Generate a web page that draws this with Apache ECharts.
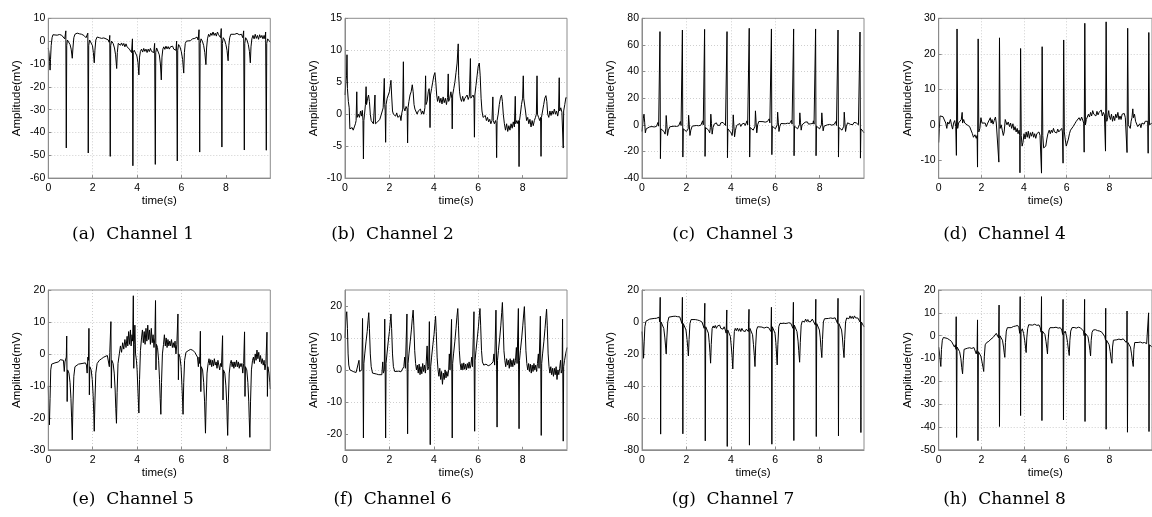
<!DOCTYPE html>
<html><head><meta charset="utf-8">
<script src="https://cdn.jsdelivr.net/npm/echarts@6/dist/echarts.min.js"></script>
<style>html,body{margin:0;padding:0;background:#fff}#c{width:1152px;height:517px}</style>
</head><body><div id="c"></div>
<script>
// ---------------- data (time in s, amplitude in mV) ----------------
const channel1 = [[0,-3],[0.03,-5],[0.06,-9],[0.08,-12.7],[0.1,-8],[0.13,-2],[0.17,1.5],[0.21,2.8],[0.3,3],[0.4,2.6],[0.5,2.9],[0.6,2.6],[0.68,2],[0.74,1],[0.77,0.5],[0.79,4.5],[0.81,-46.8],[0.83,-2],[0.86,0.5],[0.92,0],[0.98,-1.5],[1.03,-3.5],[1.08,-7.5],[1.11,-3],[1.15,1.5],[1.2,3],[1.3,3.5],[1.4,3.2],[1.5,3],[1.6,2.5],[1.7,1.5],[1.75,1],[1.78,3.5],[1.80,-49],[1.82,-2],[1.86,0.5],[1.93,0],[1.99,-2],[2.03,-5],[2.07,-9.5],[2.1,-4],[2.14,0.5],[2.2,1.8],[2.3,1.5],[2.4,1.2],[2.5,1.4],[2.6,1],[2.7,0.5],[2.74,-0.5],[2.77,2.5],[2.79,-50.5],[2.81,-2],[2.85,0],[2.92,-1],[2.98,-3],[3.03,-6],[3.08,-12],[3.11,-5],[3.15,-1],[3.2,-0.5],[3.25,-1.8],[3.3,-0.8],[3.35,-2],[3.4,-1],[3.45,-2.5],[3.5,-1.2],[3.55,-2.5],[3.6,-1.8],[3.65,-3.5],[3.7,-2.8],[3.75,-5],[3.79,1],[3.81,-54.6],[3.83,-5],[3.87,-4],[3.93,-4.5],[3.99,-6.5],[4.04,-9.5],[4.08,-14.8],[4.11,-7],[4.15,-4.5],[4.2,-3.5],[4.25,-4.8],[4.3,-3.2],[4.35,-4.5],[4.4,-3.5],[4.45,-5],[4.5,-3.5],[4.55,-4.6],[4.6,-3.2],[4.65,-4.5],[4.7,-3.8],[4.75,-5],[4.79,-1],[4.82,-54],[4.84,-5],[4.88,-3],[4.94,-3.5],[5.0,-6],[5.05,-10],[5.09,-17],[5.12,-7],[5.16,-3.5],[5.2,-2.5],[5.25,-3.6],[5.3,-2.2],[5.35,-3.4],[5.4,-2.4],[5.45,-3.5],[5.5,-2.5],[5.55,-3.2],[5.6,-2.2],[5.65,-3.5],[5.7,-3],[5.75,-4],[5.78,0],[5.81,-52.5],[5.83,-4],[5.87,-1.5],[5.93,-2.5],[5.99,-4.5],[6.05,-8],[6.10,-14],[6.13,-5],[6.17,-1],[6.22,0],[6.3,0.5],[6.4,0.2],[6.5,1],[6.6,1.2],[6.7,1.8],[6.75,0.5],[6.79,5],[6.82,-48.6],[6.84,-1],[6.88,1],[6.94,0],[7.0,-2],[7.05,-5],[7.10,-10.3],[7.13,-3],[7.17,1],[7.22,3],[7.27,2],[7.32,3.5],[7.37,2.5],[7.42,4],[7.47,2.5],[7.52,3.5],[7.57,2.2],[7.62,4],[7.67,2.8],[7.72,3.5],[7.76,1.5],[7.79,5.5],[7.82,-46.4],[7.84,-1],[7.88,1.5],[7.94,0.5],[8.0,-1.5],[8.05,-4],[8.10,-8.6],[8.13,-2],[8.17,1.5],[8.22,3],[8.3,3.5],[8.4,3],[8.5,3.4],[8.6,2.8],[8.7,3],[8.76,1.5],[8.80,4.5],[8.83,-47.7],[8.85,-1],[8.89,1.5],[8.95,0.5],[9.01,-1.5],[9.06,-4.5],[9.10,-9.5],[9.13,-2.5],[9.17,1],[9.22,2.5],[9.27,1],[9.32,3],[9.37,1.2],[9.42,2.5],[9.47,0.8],[9.52,2.8],[9.57,1.5],[9.62,2.5],[9.67,1],[9.72,2.5],[9.76,1],[9.79,4],[9.82,-47.8],[9.84,-1],[9.88,1],[9.94,0.5],[10,-0.5]];

const channel2 = [[0,3],[0.04,5],[0.07,6],[0.09,9.3],[0.11,4],[0.15,2],[0.19,1],[0.22,-2.3],[0.27,-2.6],[0.32,-2.1],[0.37,-2.5],[0.42,-2],[0.47,-1.5],[0.5,-1],[0.53,3.5],[0.55,-0.5],[0.6,0],[0.65,-0.5],[0.7,0.5],[0.74,-0.3],[0.78,0.6],[0.81,-1],[0.83,-7],[0.85,-1],[0.88,0],[0.92,1.5],[0.95,4.3],[0.97,1.5],[1.02,2.5],[1.06,3],[1.1,2],[1.14,0],[1.18,-1],[1.23,-0.8],[1.28,-1.5],[1.32,-1.2],[1.35,3],[1.37,-1.5],[1.42,-1.8],[1.47,-1.2],[1.52,-1.5],[1.57,-0.8],[1.62,-0.5],[1.68,0.5],[1.72,1],[1.77,5.6],[1.79,1.5],[1.81,0.5],[1.83,-4.4],[1.85,1.5],[1.9,2.5],[1.95,2.2],[2.0,3.5],[2.04,4.5],[2.07,5.3],[2.1,3],[2.14,0.5],[2.18,0],[2.23,0.3],[2.28,-0.3],[2.33,0.2],[2.38,-0.5],[2.43,-0.8],[2.48,-0.2],[2.52,-1],[2.56,0.2],[2.6,0.8],[2.63,8.2],[2.65,1],[2.7,0.5],[2.75,1.2],[2.8,0.8],[2.82,-4.5],[2.84,1],[2.88,2],[2.93,3],[2.98,3.5],[3.03,4.6],[3.07,3.5],[3.11,1.5],[3.15,0.8],[3.2,0.5],[3.25,0],[3.3,0.5],[3.35,0.2],[3.4,0.8],[3.45,0],[3.5,0.5],[3.55,0],[3.6,1],[3.63,6],[3.65,1.5],[3.7,2],[3.75,3.5],[3.79,4],[3.81,3],[3.83,-2.1],[3.85,3],[3.9,4],[3.95,5],[4.0,6],[4.05,6.5],[4.09,5],[4.13,3],[4.17,2],[4.22,2.8],[4.27,1.8],[4.32,2.5],[4.37,1.6],[4.42,2.7],[4.47,1.8],[4.52,2.5],[4.57,1.5],[4.62,2.6],[4.65,6.3],[4.67,2],[4.72,2.5],[4.77,3.5],[4.81,2.5],[4.83,-2.3],[4.85,3],[4.9,4],[4.95,5],[5.0,6.5],[5.05,8],[5.1,11],[5.12,6],[5.16,3.5],[5.2,2.5],[5.25,2],[5.3,2.8],[5.35,2],[5.4,2.5],[5.45,2.2],[5.5,3],[5.55,2.3],[5.6,2.8],[5.65,8.7],[5.67,2.5],[5.72,2.8],[5.77,3],[5.81,2.5],[5.83,-3.6],[5.85,3],[5.9,4.5],[5.95,6],[6.0,7.5],[6.05,8],[6.09,6],[6.13,2.5],[6.17,0.5],[6.22,-0.5],[6.27,-0.8],[6.32,-0.2],[6.37,-1],[6.42,-0.5],[6.47,-1.2],[6.52,-0.8],[6.57,-1.5],[6.62,-1],[6.66,2.7],[6.68,-1],[6.73,-1.5],[6.78,-1],[6.81,-1.5],[6.83,-6.8],[6.85,-1],[6.9,0],[6.95,1.5],[7.0,2.5],[7.05,3],[7.09,2],[7.13,0],[7.18,-1.5],[7.23,-2.5],[7.28,-1.5],[7.33,-2.7],[7.38,-1.8],[7.43,-2.5],[7.48,-1.5],[7.53,-2.2],[7.58,-1.2],[7.63,-2],[7.67,2.8],[7.69,-1.5],[7.74,-1],[7.79,-1.5],[7.82,-1],[7.84,-8.2],[7.86,-1],[7.9,0],[7.95,1.5],[8.0,2.5],[8.03,6],[8.05,2.5],[8.09,2.8],[8.13,0.5],[8.18,-1],[8.23,-0.5],[8.28,-1.5],[8.33,-0.8],[8.38,-2],[8.43,-1],[8.48,-1.8],[8.53,-1],[8.58,-0.5],[8.62,0],[8.65,6],[8.67,0],[8.72,-0.5],[8.77,-1],[8.81,-0.5],[8.83,-6.6],[8.85,-0.5],[8.9,0.5],[8.95,1.5],[9.0,2.5],[9.05,2.9],[9.09,2],[9.13,0],[9.18,-0.5],[9.23,0.5],[9.28,-0.2],[9.33,0.5],[9.38,0],[9.43,0.8],[9.48,0],[9.53,0.5],[9.58,-0.3],[9.62,0.5],[9.65,5.7],[9.67,0.5],[9.72,1],[9.77,0.3],[9.81,0.5],[9.83,-5.3],[9.85,0.5],[9.9,1.5],[9.95,2.6],[10,2.5]];

const channel3 = [[0,-5],[0.03,0],[0.06,5],[0.09,8],[0.12,2],[0.15,-6],[0.19,-3],[0.24,-1.6],[0.35,-1.5],[0.45,-1.3],[0.55,-1.6],[0.65,-1.2],[0.7,-0.5],[0.72,1.8],[0.75,-1],[0.79,-1.5],[0.81,70],[0.83,-25.4],[0.85,-3],[0.92,-3.5],[0.99,-5],[1.04,-7],[1.07,-3],[1.09,7],[1.12,0],[1.15,-8],[1.19,-4],[1.25,-1.5],[1.35,-1.2],[1.45,-1],[1.55,-1.2],[1.65,-0.8],[1.71,0],[1.73,2.5],[1.76,-0.5],[1.8,-1],[1.82,71.2],[1.84,-24.2],[1.86,-3],[1.93,-3.5],[2.0,-5],[2.05,-6.5],[2.08,-3],[2.1,7.2],[2.13,0],[2.16,-8],[2.2,-4],[2.26,-1],[2.35,-0.8],[2.45,-0.5],[2.55,-0.7],[2.65,-0.3],[2.71,0.5],[2.73,3],[2.76,0],[2.8,-0.5],[2.82,71.7],[2.84,-23.7],[2.86,-2],[2.93,-2.5],[3.0,-4],[3.05,-6],[3.08,-2],[3.1,8],[3.13,1],[3.16,-7],[3.2,-2],[3.25,0.5],[3.3,-0.5],[3.35,1.5],[3.4,-0.3],[3.45,1.2],[3.5,-0.5],[3.55,1.5],[3.6,0],[3.65,1.8],[3.7,0.5],[3.73,2.5],[3.76,-0.5],[3.81,-1],[3.83,70],[3.85,-24.7],[3.87,-3],[3.94,-4],[4.01,-6],[4.06,-8],[4.09,-3],[4.11,7.5],[4.14,-1],[4.17,-9],[4.21,-4],[4.26,-0.5],[4.3,0.8],[4.35,-1],[4.4,1],[4.45,-1.2],[4.5,0.5],[4.55,-1],[4.6,1.2],[4.65,-0.5],[4.7,1],[4.73,3],[4.76,0],[4.81,0.5],[4.83,72.5],[4.85,-24.2],[4.87,-2],[4.94,-2.5],[5.01,-4],[5.06,-5],[5.09,-1],[5.11,10.5],[5.14,2],[5.17,-6],[5.21,0],[5.26,2.5],[5.35,2],[5.45,2.4],[5.55,2],[5.65,2.5],[5.71,2.8],[5.73,4.5],[5.76,1.5],[5.81,1.5],[5.83,72],[5.85,-22.4],[5.87,-1],[5.94,-1.5],[6.01,-3],[6.06,-4],[6.09,0],[6.11,9.5],[6.14,2],[6.17,-5],[6.21,-1],[6.26,1],[6.35,1.2],[6.45,0.8],[6.55,1.2],[6.65,1],[6.71,1.5],[6.73,3.5],[6.76,0.5],[6.81,0.5],[6.83,72],[6.85,-23.2],[6.87,-1],[6.94,-1.5],[7.01,-3],[7.06,-4],[7.09,0],[7.11,9],[7.14,2],[7.17,-4],[7.21,0],[7.26,1.5],[7.3,0.5],[7.35,2],[7.4,0.8],[7.45,2.2],[7.5,0.5],[7.55,1.8],[7.6,0.8],[7.65,2],[7.7,1],[7.72,3],[7.75,0.5],[7.8,0.5],[7.82,72],[7.84,-23.2],[7.86,-1],[7.93,-1.5],[8.0,-3],[8.05,-4],[8.08,0],[8.1,9],[8.13,1.5],[8.16,-4.5],[8.2,-1],[8.25,0.5],[8.35,0],[8.45,0.3],[8.55,-0.2],[8.65,0.2],[8.71,0.5],[8.73,2.5],[8.76,-0.5],[8.81,-0.5],[8.83,71.2],[8.85,-24.2],[8.87,-2],[8.94,-2.5],[9.01,-4],[9.06,-5.5],[9.09,-1],[9.11,9.5],[9.14,1.5],[9.17,-5],[9.21,-1],[9.26,1.5],[9.3,0.2],[9.35,1.8],[9.4,0.3],[9.45,1.6],[9.5,0.2],[9.55,1.8],[9.6,0.5],[9.65,1.5],[9.7,1],[9.72,3],[9.75,0],[9.8,-0.5],[9.82,69.7],[9.84,-25],[9.86,-3],[9.91,-3.5],[9.96,-5],[10,-6]];

const channel4 = [[0,-5],[0.03,-1],[0.06,2.5],[0.12,2.8],[0.2,2.3],[0.28,1.8],[0.33,0.5],[0.38,-1],[0.42,0.8],[0.48,0.2],[0.55,1.5],[0.6,0],[0.65,-1.2],[0.7,0.5],[0.75,1.2],[0.8,-0.5],[0.83,-8.6],[0.86,27],[0.89,-1],[0.93,0.5],[0.98,1],[1.02,0],[1.06,1.5],[1.1,3.5],[1.12,0.5],[1.17,1.5],[1.22,0.5],[1.28,1],[1.33,0],[1.38,0.5],[1.45,-0.5],[1.52,-1],[1.58,-2.5],[1.63,-3.5],[1.7,-2.8],[1.76,-3.8],[1.8,-3],[1.82,-11.9],[1.85,24.2],[1.88,-2],[1.93,-1],[1.98,2],[2.03,0.5],[2.08,1],[2.12,0],[2.18,0.5],[2.23,-0.5],[2.3,0.5],[2.38,1],[2.42,2],[2.46,0.5],[2.5,1.5],[2.55,0.2],[2.6,1.2],[2.66,2.2],[2.7,0.5],[2.76,0.8],[2.79,0],[2.82,-10.5],[2.85,24.5],[2.88,-1],[2.93,0],[2.98,-1.5],[3.03,-3],[3.07,-2],[3.12,1.5],[3.16,1],[3.2,0],[3.26,0.8],[3.32,-0.5],[3.37,0.5],[3.42,-1],[3.48,0.3],[3.53,-1.5],[3.58,-0.5],[3.63,-2],[3.68,-1],[3.72,-2.5],[3.77,-1.5],[3.8,-3],[3.81,-13.5],[3.84,21.5],[3.87,-3],[3.91,-6],[3.95,-5],[4.0,-2.5],[4.05,-4],[4.1,-2],[4.15,-3.5],[4.2,-1.8],[4.25,-3.8],[4.3,-2.2],[4.35,-3.2],[4.4,-2],[4.45,-3.5],[4.5,-2.5],[4.55,-3.8],[4.6,-2.5],[4.65,-3],[4.7,-2],[4.75,-3],[4.79,-2.5],[4.82,-13.6],[4.85,22],[4.88,-3],[4.92,-6.5],[4.97,-7],[5.02,-6],[5.07,-4],[5.12,-2.5],[5.18,-1.5],[5.23,-2.5],[5.28,-1.5],[5.33,-2.2],[5.38,-1],[5.43,-2],[5.48,-1.5],[5.53,-2.3],[5.58,-1.2],[5.63,-2],[5.68,-1.5],[5.72,-2.5],[5.77,-1],[5.8,-2],[5.83,-10.8],[5.86,23.9],[5.89,-2],[5.93,-4],[5.98,-6],[6.03,-6.3],[6.08,-4],[6.13,-2.5],[6.18,-1.5],[6.23,-1],[6.3,-0.5],[6.38,0.3],[6.45,1],[6.52,0.8],[6.58,2],[6.64,1.2],[6.7,2.2],[6.75,2],[6.8,0.5],[6.82,-7.7],[6.85,28.6],[6.88,0],[6.92,1.5],[6.97,2],[7.02,3],[7.07,2.2],[7.12,3.5],[7.17,2.5],[7.22,4],[7.27,3],[7.32,3.5],[7.37,2.5],[7.42,3.8],[7.47,2.8],[7.52,3.5],[7.57,3],[7.62,4.2],[7.67,2.5],[7.72,3.5],[7.77,2.8],[7.8,3.2],[7.82,-7.4],[7.85,29],[7.88,1],[7.92,2],[7.97,4],[8.0,2.5],[8.05,1.5],[8.1,3],[8.15,1],[8.2,2.5],[8.25,1.2],[8.3,3],[8.35,2],[8.4,3.5],[8.45,1.5],[8.5,2.5],[8.55,1.5],[8.6,3],[8.65,2.5],[8.7,3.2],[8.75,2],[8.8,2.5],[8.83,-7.8],[8.86,27.2],[8.89,0],[8.93,0.5],[8.98,-1],[9.02,1],[9.06,2],[9.1,4.5],[9.13,2],[9.18,3],[9.23,1],[9.28,0.5],[9.33,-0.5],[9.38,-1],[9.43,0.3],[9.48,-0.8],[9.53,0.5],[9.58,1],[9.63,0.2],[9.68,1],[9.74,0.5],[9.8,1],[9.82,-8],[9.85,26],[9.88,0],[9.94,0.5],[10,0.5]];

const channel5 = [[0,-10],[0.02,-17],[0.05,-22.2],[0.08,-14],[0.11,-5],[0.15,-3.2],[0.22,-2.6],[0.3,-2.8],[0.38,-2.2],[0.46,-2.5],[0.54,-1.8],[0.62,-1.6],[0.68,-2],[0.72,-5.5],[0.75,-2.5],[0.79,-3],[0.81,-1],[0.83,5.6],[0.85,-14.9],[0.87,-5],[0.93,-6],[0.98,-9],[1.02,-14],[1.05,-20],[1.08,-26.9],[1.11,-16],[1.15,-7],[1.2,-4],[1.28,-3.5],[1.36,-3.2],[1.44,-3.5],[1.52,-3],[1.6,-3.2],[1.67,-2.8],[1.72,-3.5],[1.75,-6],[1.78,-1],[1.81,-2],[1.83,8],[1.85,-12.8],[1.87,-4],[1.93,-5],[1.98,-8],[2.02,-13],[2.05,-19],[2.07,-24.2],[2.1,-15],[2.14,-6],[2.2,-3],[2.3,-2],[2.4,-1.5],[2.5,-1],[2.58,-0.6],[2.66,-0.5],[2.72,-0.8],[2.75,-4],[2.77,0.5],[2.8,1],[2.82,10.1],[2.84,-10.7],[2.86,-2],[2.92,-3],[2.97,-6],[3.01,-11],[3.04,-17],[3.07,-21.7],[3.1,-12],[3.14,-3],[3.2,0],[3.25,2.5],[3.3,0.5],[3.35,3.5],[3.4,1.5],[3.45,4.5],[3.5,2],[3.55,5.5],[3.58,2.5],[3.62,7],[3.66,3],[3.7,7.5],[3.73,2.5],[3.77,6],[3.8,4],[3.83,18.2],[3.85,-4.5],[3.87,3],[3.9,9],[3.93,0],[3.97,-2],[4.0,-5],[4.04,-12],[4.08,-18.5],[4.11,-8],[4.15,1],[4.2,5],[4.24,7.5],[4.28,3.5],[4.32,7],[4.36,3],[4.4,8],[4.44,4],[4.48,9],[4.52,4.5],[4.56,7.5],[4.6,3],[4.64,8],[4.68,3.5],[4.72,6],[4.76,2],[4.8,5],[4.83,16.7],[4.85,-5],[4.87,3],[4.92,2],[4.97,-2],[5.01,-8],[5.04,-14],[5.07,-18.9],[5.1,-9],[5.14,0],[5.19,3],[5.23,6],[5.27,2.5],[5.31,5],[5.35,2],[5.39,4.5],[5.43,2.5],[5.47,4],[5.51,2.5],[5.55,4.5],[5.59,2],[5.63,3.5],[5.67,2],[5.71,4],[5.75,0],[5.79,3],[5.84,12.5],[5.86,-8.1],[5.88,0],[5.93,-1],[5.98,-4],[6.02,-10],[6.05,-15],[6.07,-18.9],[6.1,-9],[6.14,-2],[6.2,0.5],[6.3,1],[6.4,1.4],[6.5,1.2],[6.6,0.5],[6.68,0],[6.72,-1],[6.76,-4],[6.79,-1],[6.82,-3],[6.85,7.1],[6.87,-11.8],[6.89,-4],[6.95,-5],[7.0,-9],[7.04,-15],[7.06,-20],[7.08,-24.8],[7.11,-15],[7.15,-6],[7.2,-3],[7.24,-1.5],[7.28,-3.5],[7.32,-1.8],[7.36,-4],[7.4,-2],[7.44,-3.8],[7.48,-1.5],[7.52,-3.5],[7.56,-2.5],[7.6,-4.5],[7.64,-2],[7.68,-3.5],[7.72,-5],[7.76,-3],[7.8,-4],[7.85,5.7],[7.87,-14.4],[7.89,-5],[7.95,-6],[8.0,-10],[8.04,-16],[8.06,-21],[8.08,-25.5],[8.11,-15],[8.15,-6],[8.2,-3],[8.24,-2],[8.28,-4],[8.32,-2.5],[8.36,-4.5],[8.4,-2.5],[8.44,-4],[8.48,-2],[8.52,-4],[8.56,-2.5],[8.6,-4.5],[8.64,-3],[8.68,-4],[8.72,-3],[8.76,-6],[8.8,-3],[8.84,6.9],[8.86,-13.3],[8.88,-4],[8.94,-5],[8.99,-9],[9.03,-15],[9.05,-20],[9.08,-26.1],[9.11,-15],[9.15,-5],[9.2,-2],[9.24,-1],[9.28,-3],[9.32,0],[9.36,-2],[9.4,1.2],[9.44,-1.5],[9.48,0.5],[9.52,-2.5],[9.56,-0.5],[9.6,-3],[9.64,-1.5],[9.68,-3.5],[9.72,-2],[9.76,-5],[9.8,-3],[9.85,6.8],[9.87,-13.3],[9.89,-4],[9.94,-6],[9.98,-9],[10,-11]];

const channel6 = [[0,10],[0.03,15],[0.06,17.5],[0.08,18.2],[0.11,13],[0.14,5],[0.17,1.5],[0.22,0],[0.3,-0.4],[0.4,-0.6],[0.5,-0.8],[0.58,-1],[0.63,3],[0.66,-0.5],[0.72,-1],[0.76,0],[0.79,16.1],[0.81,0],[0.83,-21.3],[0.85,2],[0.89,5],[0.95,9],[1.0,12],[1.04,15.5],[1.07,17.9],[1.1,13],[1.14,5],[1.18,1],[1.24,-1],[1.32,-1.5],[1.42,-1.3],[1.52,-1.5],[1.6,-1.2],[1.66,-1.5],[1.7,2.5],[1.73,-1],[1.77,0],[1.79,15.9],[1.81,0],[1.83,-21.3],[1.85,2],[1.89,5],[1.95,9],[2.0,12],[2.04,15],[2.07,17.5],[2.1,13],[2.14,5],[2.18,1],[2.24,-0.5],[2.32,-0.7],[2.42,-0.4],[2.52,-0.6],[2.6,0],[2.65,1],[2.69,4],[2.72,0.5],[2.76,1],[2.79,17.5],[2.8,0],[2.82,-20],[2.84,2],[2.88,5],[2.94,9],[2.99,12.5],[3.03,16],[3.07,18.7],[3.1,14],[3.14,6],[3.18,2],[3.22,0],[3.26,1.5],[3.3,-1],[3.34,1.8],[3.38,-1.5],[3.42,1],[3.46,-1.2],[3.5,2],[3.54,-0.5],[3.58,1.5],[3.62,-1],[3.66,2.5],[3.7,7.5],[3.73,0],[3.77,1],[3.8,15.1],[3.82,0],[3.84,-23.4],[3.86,1],[3.9,4],[3.96,8],[4.01,11],[4.05,14.5],[4.08,16.8],[4.11,12],[4.15,4],[4.19,0],[4.23,-2],[4.27,0.5],[4.31,-3],[4.35,-0.5],[4.39,-4.5],[4.43,-1],[4.47,-3],[4.51,0],[4.55,-2.5],[4.59,-0.5],[4.63,-2],[4.67,0],[4.7,5],[4.73,0],[4.77,0.5],[4.8,15.8],[4.81,0],[4.83,-21.3],[4.85,2],[4.89,5],[4.95,9],[5.0,13],[5.04,16.5],[5.08,19.2],[5.11,14],[5.15,6],[5.19,2],[5.23,0],[5.27,2],[5.31,0],[5.35,2.2],[5.39,0.2],[5.43,1.8],[5.47,0],[5.51,2],[5.55,0.5],[5.59,2.5],[5.63,0.5],[5.67,1.5],[5.71,4],[5.74,1],[5.78,1.5],[5.81,18.2],[5.82,0],[5.84,-19.2],[5.86,3],[5.9,6],[5.96,10],[6.01,13.5],[6.05,17],[6.08,19.2],[6.11,14],[6.15,6],[6.19,2.5],[6.25,1.5],[6.35,1.8],[6.45,1.3],[6.55,1.6],[6.62,1.8],[6.67,2.5],[6.71,5],[6.74,1.5],[6.78,2],[6.8,18.7],[6.83,0],[6.85,-17.9],[6.87,3],[6.91,6],[6.97,10],[7.02,14],[7.06,18],[7.09,21.1],[7.12,15],[7.16,6],[7.2,3],[7.24,1],[7.28,3.5],[7.32,1.5],[7.36,3],[7.4,0.5],[7.44,3.5],[7.48,1],[7.52,3],[7.56,1],[7.6,3.5],[7.64,1.5],[7.68,3],[7.72,7],[7.75,2],[7.79,2.5],[7.81,19.2],[7.82,0],[7.84,-18.4],[7.86,3],[7.9,6],[7.96,10],[8.01,14],[8.05,17.5],[8.08,19.8],[8.11,14],[8.15,6],[8.19,2],[8.23,0],[8.27,2],[8.31,-0.5],[8.35,1.8],[8.39,-1],[8.43,1.5],[8.47,-0.5],[8.51,2],[8.55,0],[8.59,1.5],[8.63,-0.5],[8.67,2],[8.71,5],[8.74,0.5],[8.78,1],[8.8,16.8],[8.82,0],[8.84,-20.5],[8.86,2],[8.9,5],[8.96,9],[9.01,13],[9.05,16.5],[9.08,19],[9.11,14],[9.15,5],[9.19,1],[9.23,-1],[9.27,1],[9.31,-1.5],[9.35,0.5],[9.39,-2],[9.43,0.5],[9.47,-1.5],[9.51,1],[9.55,-3],[9.59,0],[9.63,-1.5],[9.67,0.5],[9.71,3],[9.74,-1],[9.78,0],[9.8,15.9],[9.81,0],[9.83,-22.3],[9.85,1],[9.89,3],[9.94,5],[10,7]];

const channel7 = [[0,-6],[0.03,-12],[0.07,-22.7],[0.1,-12],[0.13,-3],[0.18,0.5],[0.25,1.7],[0.35,1.8],[0.45,2],[0.55,2.2],[0.65,2.3],[0.72,2.8],[0.77,3],[0.8,0],[0.82,15.4],[0.84,-70.2],[0.86,0],[0.92,-1],[0.98,-4],[1.03,-10],[1.06,-15],[1.09,-20],[1.12,-10],[1.16,0],[1.21,3],[1.3,3.8],[1.4,3.5],[1.5,3.6],[1.6,3.3],[1.7,3.2],[1.77,2.5],[1.8,-1],[1.82,15.4],[1.84,-70],[1.86,-1],[1.92,-2],[1.98,-5],[2.03,-11],[2.06,-16],[2.09,-21.3],[2.12,-11],[2.16,-1],[2.21,1.5],[2.3,1.7],[2.4,1.5],[2.5,1.2],[2.6,0.8],[2.7,0],[2.76,-1],[2.8,-4],[2.83,11.7],[2.85,-74.4],[2.87,-3],[2.93,-4],[2.99,-7],[3.03,-13],[3.06,-19],[3.09,-25.8],[3.12,-14],[3.16,-4],[3.21,-2.5],[3.25,-3.8],[3.3,-2.2],[3.35,-4],[3.4,-2.5],[3.45,-3.5],[3.5,-2],[3.55,-4],[3.6,-2.8],[3.65,-4.5],[3.7,-3],[3.75,-5],[3.79,-7],[3.82,7.5],[3.84,-77.9],[3.86,-5],[3.92,-6],[3.98,-9],[4.02,-15],[4.06,-22],[4.09,-29.4],[4.12,-17],[4.16,-6],[4.2,-4],[4.25,-5.5],[4.3,-3.8],[4.35,-5.8],[4.4,-4.2],[4.45,-6],[4.5,-4],[4.55,-5.5],[4.6,-4.5],[4.65,-6],[4.7,-4.5],[4.75,-5.5],[4.79,-6],[4.82,7.9],[4.84,-77.1],[4.86,-4],[4.92,-5],[4.98,-8],[5.02,-14],[5.06,-21],[5.09,-27.9],[5.12,-15],[5.16,-5],[5.21,-3],[5.3,-3.5],[5.4,-3.2],[5.5,-3.8],[5.6,-3.3],[5.7,-3.5],[5.76,-4],[5.81,-6],[5.83,9.2],[5.85,-76.5],[5.87,-3],[5.93,-4],[5.99,-7],[6.03,-13],[6.06,-20],[6.09,-26.9],[6.12,-14],[6.16,-3],[6.21,-1],[6.3,-1.2],[6.4,-0.8],[6.5,-1],[6.6,-0.5],[6.7,-0.8],[6.76,-1],[6.8,-4],[6.82,12.3],[6.84,-74.2],[6.86,-2],[6.92,-3],[6.98,-6],[7.03,-12],[7.06,-18],[7.1,-25.2],[7.13,-13],[7.17,-2],[7.22,0.5],[7.27,1.5],[7.32,0],[7.37,1.8],[7.42,0.2],[7.47,1.5],[7.52,0],[7.57,1.2],[7.62,0.5],[7.67,1.8],[7.72,0.5],[7.77,1],[7.81,-2],[7.83,14.2],[7.85,-71.7],[7.87,-1],[7.93,-2],[7.99,-5],[8.03,-10],[8.06,-16],[8.1,-22.3],[8.13,-11],[8.17,0],[8.22,2],[8.3,2.4],[8.4,2.2],[8.5,2.5],[8.6,2.2],[8.7,2.6],[8.77,2],[8.81,-1],[8.83,14.8],[8.85,-71.3],[8.87,-1],[8.93,-2],[8.99,-5],[9.03,-10],[9.06,-16],[9.1,-22.3],[9.13,-11],[9.17,0],[9.22,2.5],[9.27,3.5],[9.32,2],[9.37,3.8],[9.42,2.2],[9.47,3.5],[9.52,2],[9.57,3.8],[9.62,2.5],[9.67,3.5],[9.72,2.5],[9.77,3],[9.82,0],[9.84,16.5],[9.86,-69.2],[9.88,0],[9.94,-1],[10,-3]];

const channel8 = [[0,-5],[0.04,-8],[0.08,-12],[0.1,-13.5],[0.13,-6],[0.17,-2],[0.22,-0.8],[0.3,-0.7],[0.4,-1.2],[0.5,-1.8],[0.6,-2.5],[0.68,-3],[0.74,-5],[0.78,-4],[0.81,-6],[0.82,8.3],[0.84,-44.6],[0.86,-5],[0.92,-5.5],[0.98,-7],[1.04,-10],[1.08,-14],[1.12,-16.7],[1.15,-11],[1.19,-6],[1.25,-5.2],[1.35,-5.5],[1.45,-5.3],[1.55,-5.6],[1.65,-5.2],[1.72,-5.5],[1.76,-8],[1.8,-6],[1.82,6.9],[1.84,-46],[1.86,-7],[1.92,-7.5],[1.98,-9],[2.04,-12],[2.08,-14],[2.11,-15.7],[2.14,-9],[2.18,-4],[2.25,-3],[2.35,-2.5],[2.45,-1.5],[2.55,-0.8],[2.62,0],[2.7,1],[2.76,1.5],[2.81,-1],[2.83,13.4],[2.85,-39.8],[2.87,0],[2.93,0],[2.99,-2],[3.04,-5],[3.07,-7.5],[3.1,-9.5],[3.13,-3],[3.17,2],[3.22,3.5],[3.3,3.8],[3.4,3.5],[3.5,4],[3.6,4.2],[3.7,4.5],[3.76,3.5],[3.8,1],[3.82,17.1],[3.84,-35],[3.86,2],[3.92,3],[3.98,1],[4.03,-2],[4.07,-5],[4.1,-7.4],[4.13,-1],[4.17,3],[4.22,4.8],[4.3,5],[4.4,4.6],[4.5,5],[4.6,4.5],[4.7,4.7],[4.76,3.5],[4.8,1.5],[4.82,17.1],[4.84,-37.2],[4.86,2],[4.92,2.5],[4.98,0.5],[5.03,-2.5],[5.07,-5.5],[5.1,-8],[5.13,-2],[5.17,2.5],[5.22,3.5],[5.3,3.8],[5.4,3.5],[5.5,3.7],[5.6,3.3],[5.7,3.5],[5.77,2.5],[5.81,0.5],[5.83,15.9],[5.85,-36.9],[5.87,1],[5.93,2],[5.99,0],[6.04,-3],[6.08,-6],[6.12,-8.7],[6.15,-2],[6.19,2],[6.25,3.5],[6.35,3.6],[6.45,3.3],[6.55,3.7],[6.65,3.4],[6.74,3],[6.79,2],[6.82,0],[6.84,15.9],[6.86,-37.6],[6.88,1],[6.94,1.5],[7.0,-0.5],[7.05,-3.5],[7.09,-6.5],[7.12,-8.9],[7.15,-2],[7.19,1.5],[7.25,2.5],[7.35,2.6],[7.45,2.2],[7.55,2],[7.65,1.5],[7.74,1],[7.79,-0.5],[7.82,-2],[7.83,12],[7.85,-41],[7.87,-2],[7.93,-2],[7.99,-4],[8.04,-7],[8.08,-10],[8.12,-12.1],[8.15,-5],[8.19,-2],[8.25,-1.5],[8.35,-1.8],[8.45,-1.5],[8.55,-1.8],[8.65,-1.4],[8.74,-1.5],[8.79,-3],[8.82,-2],[8.83,10.8],[8.85,-42.3],[8.87,-3],[8.93,-3],[8.99,-5],[9.04,-8],[9.08,-11],[9.12,-13.5],[9.15,-6],[9.19,-3],[9.25,-2.8],[9.35,-3],[9.45,-2.8],[9.55,-3.2],[9.65,-3],[9.75,-3.5],[9.8,-4],[9.83,-3],[9.84,10],[9.86,-42],[9.88,-4],[9.94,-4],[10,-5]];

const captions = ['(a)  Channel 1','(b)  Channel 2','(c)  Channel 3','(d)  Channel 4','(e)  Channel 5','(f)  Channel 6','(g)  Channel 7','(h)  Channel 8'];
const yMins = [-60,-10,-40,-15,-30,-25,-80,-50];
const yMaxs = [10,15,80,30,20,25,20,20];
const yTickValues = [
  [-60,-50,-40,-30,-20,-10,0,10],
  [-10,-5,0,5,10,15],
  [-40,-20,0,20,40,60,80],
  [-10,0,10,20,30],
  [-30,-20,-10,0,10,20],
  [-20,-10,0,10,20],
  [-80,-60,-40,-20,0,20],
  [-50,-40,-30,-20,-10,0,10,20]
];
const xTickValues = [0,2,4,6,8];
const xAxisName = 'time(s)';
const yAxisName = 'Amplitude(mV)';
const channels = [channel1,channel2,channel3,channel4,channel5,channel6,channel7,channel8];

// ---------------- layout ----------------
const colLeft = [48.3, 345, 642, 938.7];
const rowTop = [18.3, 290];
const plotW = 222, plotH = 159.8;
const capX = [133, 392.5, 733, 1004.5];
const capY = [235, 500];
const boxColor = '#8c8c8c';
const sansFont = 'Liberation Sans, Arial, sans-serif';

const grids = [], xAxes = [], yAxes = [], series = [], graphics = [];
for (let i = 0; i < 8; i++) {
  const c = i % 4, r = Math.floor(i / 4);
  grids.push({left: colLeft[c], top: rowTop[r], width: plotW, height: plotH,
    show: true, borderColor: boxColor, borderWidth: 1, backgroundColor: 'transparent', containLabel: false, z: 5});
  xAxes.push({type: 'value', gridIndex: i, min: 0, max: 10,
    name: xAxisName, nameLocation: 'middle', nameGap: 17,
    nameTextStyle: {fontFamily: sansFont, fontSize: 11.5, color: '#000'},
    axisLine: {show: true, onZero: false, lineStyle: {color: boxColor}},
    axisTick: {show: true, inside: true, length: 3, lineStyle: {color: boxColor}, customValues: xTickValues},
    axisLabel: {fontFamily: sansFont, fontSize: 10.5, color: '#000', margin: 5, customValues: xTickValues},
    splitLine: {show: true, showMinLine: false, showMaxLine: false, lineStyle: {color: '#cfcfcf', type: [1, 2], width: 1}}
  });
  yAxes.push({type: 'value', gridIndex: i, min: yMins[i], max: yMaxs[i],
    name: yAxisName, nameLocation: 'middle', nameGap: 25, nameRotate: 90,
    nameTextStyle: {fontFamily: sansFont, fontSize: 11.5, color: '#000'},
    axisLine: {show: true, onZero: false, lineStyle: {color: boxColor}},
    axisTick: {show: true, inside: true, length: 3, lineStyle: {color: boxColor}, customValues: yTickValues[i]},
    axisLabel: {fontFamily: sansFont, fontSize: 10.5, color: '#000', margin: 3, customValues: yTickValues[i]},
    splitLine: {show: true, showMinLine: false, showMaxLine: false, lineStyle: {color: '#cfcfcf', type: [1, 2], width: 1}}
  });
  series.push({type: 'line', xAxisIndex: i, yAxisIndex: i, data: channels[i],
    showSymbol: false, symbol: 'none', silent: true, animation: false, clip: true,
    lineStyle: {color: '#000', width: 1}});
  graphics.push({type: 'text', x: capX[c], y: capY[r], silent: true,
    style: {text: captions[i], fill: '#000', font: '17px "DejaVu Serif", serif', textAlign: 'center', textVerticalAlign: 'middle'}});
}

const chart = echarts.init(document.getElementById('c'), null, {renderer: 'canvas'});
chart.setOption({animation: false, backgroundColor: '#fff', grid: grids, xAxis: xAxes, yAxis: yAxes, series: series, graphic: graphics});
</script>
</body></html>
